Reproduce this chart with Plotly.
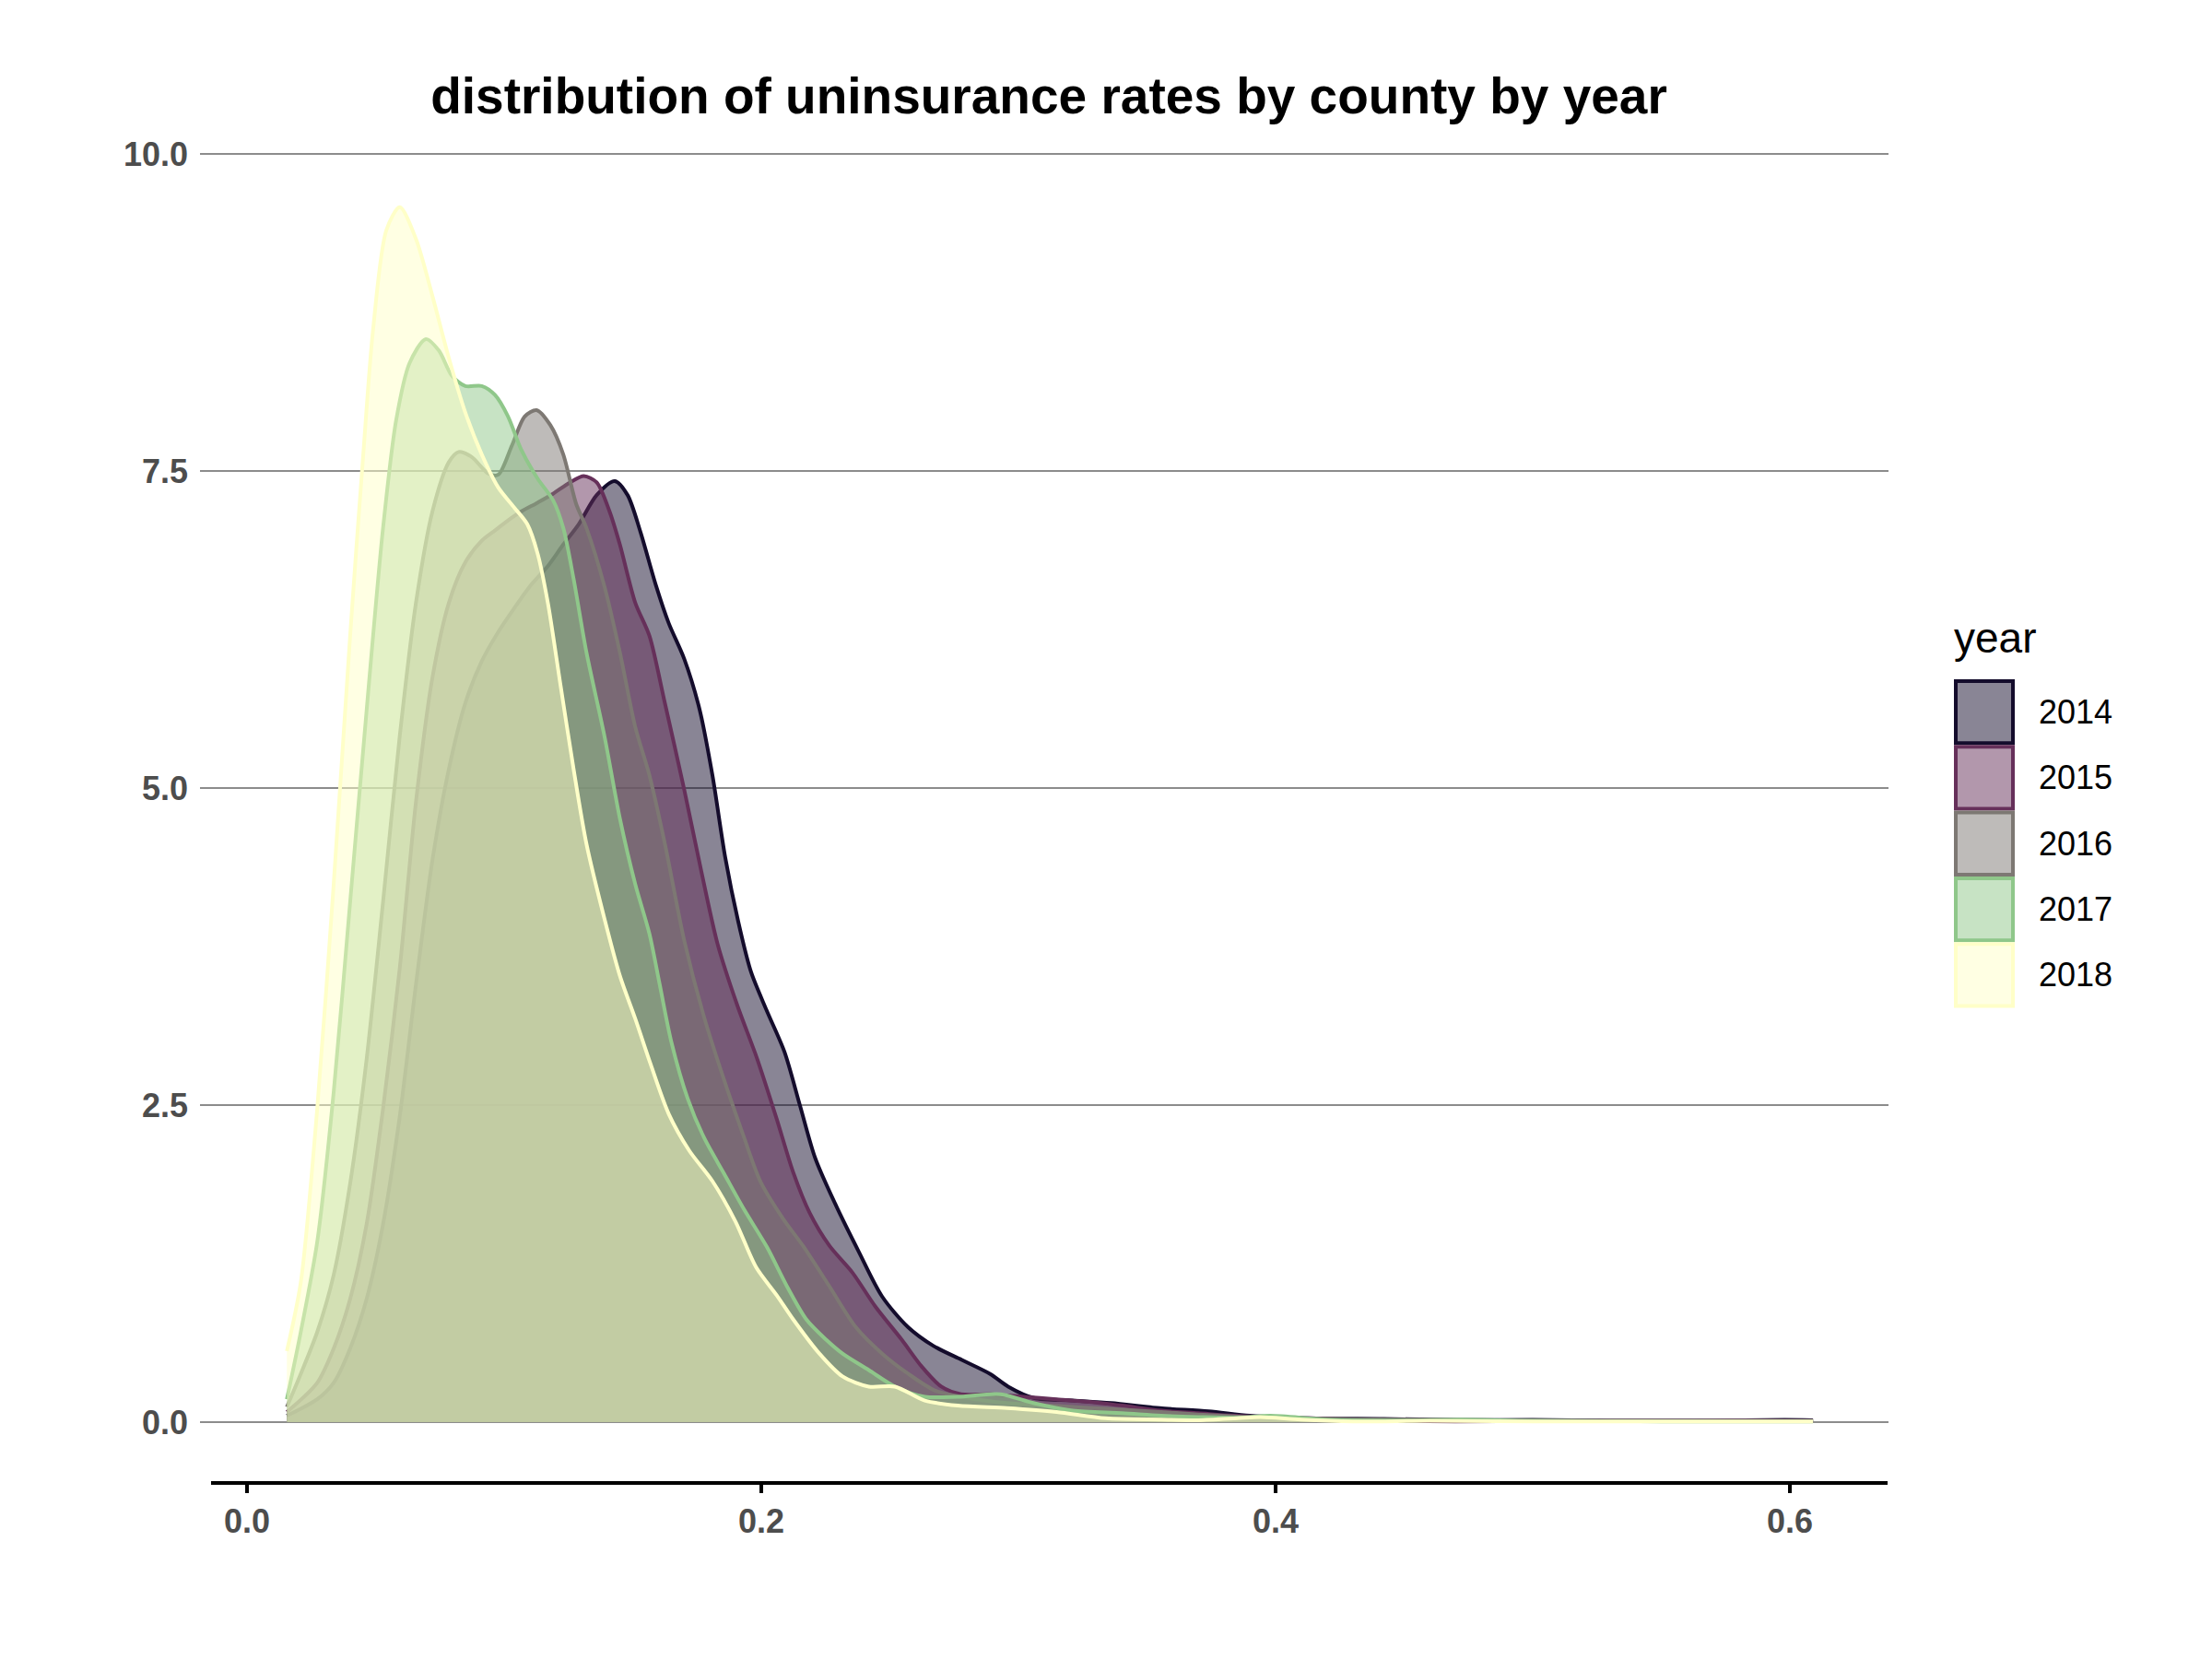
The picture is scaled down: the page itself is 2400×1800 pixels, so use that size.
import plotly.graph_objects as go

# ---------------- data ----------------
years = ["2014", "2015", "2016", "2017", "2018"]

x_2014 = [0.0155, 0.0273, 0.0337, 0.0401, 0.0465, 0.0529, 0.0594, 0.0657, 0.0721, 0.0785,
          0.0849, 0.0913, 0.0977, 0.104, 0.110, 0.117, 0.123, 0.129, 0.136, 0.143,
          0.148, 0.153, 0.159, 0.164, 0.170, 0.176, 0.181, 0.186, 0.191, 0.196,
          0.202, 0.209, 0.215, 0.221, 0.229, 0.238, 0.247, 0.257, 0.267, 0.278,
          0.289, 0.296, 0.306, 0.321, 0.336, 0.355, 0.374, 0.390, 0.413, 0.442,
          0.470, 0.500, 0.530, 0.570, 0.598, 0.609]
y_2014 = [0.05, 0.18, 0.31, 0.58, 0.97, 1.56, 2.41, 3.45, 4.43, 5.15,
          5.67, 6.00, 6.23, 6.42, 6.59, 6.75, 6.92, 7.08, 7.31, 7.42,
          7.31, 7.02, 6.60, 6.30, 6.02, 5.62, 5.10, 4.45, 3.95, 3.55,
          3.25, 2.92, 2.50, 2.08, 1.71, 1.34, 0.99, 0.75, 0.60, 0.49,
          0.38, 0.28, 0.19, 0.17, 0.15, 0.11, 0.085, 0.05, 0.03, 0.025,
          0.017, 0.017, 0.013, 0.012, 0.017, 0.015]

x_2015 = [0.0155, 0.0273, 0.0337, 0.0401, 0.0465, 0.0529, 0.0594, 0.0657, 0.0721, 0.0785,
          0.0849, 0.0913, 0.0964, 0.1015, 0.1066, 0.113, 0.119, 0.1256, 0.131, 0.136,
          0.141, 0.145, 0.151, 0.1565, 0.1625, 0.170, 0.1766, 0.183, 0.1906, 0.1983,
          0.206, 0.2124, 0.2188, 0.2265, 0.2354, 0.2444, 0.2546, 0.2623, 0.270, 0.2777,
          0.2892, 0.302, 0.3148, 0.3276, 0.3404, 0.3555, 0.370, 0.384, 0.413, 0.450,
          0.470, 0.500, 0.550, 0.580, 0.609]
y_2015 = [0.08, 0.31, 0.58, 0.97, 1.56, 2.47, 3.58, 4.89, 5.87, 6.46,
          6.78, 6.95, 7.03, 7.11, 7.18, 7.25, 7.32, 7.41, 7.46, 7.41,
          7.18, 6.92, 6.46, 6.20, 5.67, 4.99, 4.35, 3.77, 3.29, 2.87,
          2.39, 1.97, 1.65, 1.39, 1.18, 0.91, 0.65, 0.44, 0.28, 0.22,
          0.22, 0.20, 0.18, 0.16, 0.13, 0.09, 0.07, 0.05, 0.03, 0.01,
          0.005, 0.008, 0.010, 0.012, 0.008]

x_2016 = [0.0155, 0.0209, 0.0273, 0.0337, 0.0401, 0.0465, 0.0529, 0.0594, 0.0657, 0.0721,
          0.0785, 0.0823, 0.0874, 0.0938, 0.0977, 0.103, 0.108, 0.1126, 0.118, 0.123,
          0.128, 0.132, 0.139, 0.145, 0.151, 0.1565, 0.1625, 0.170, 0.1778, 0.1855,
          0.1932, 0.1996, 0.2086, 0.2162, 0.2265, 0.2367, 0.247, 0.2572, 0.2674, 0.2777,
          0.2956, 0.3212, 0.3555, 0.370, 0.390, 0.420, 0.450, 0.500, 0.550, 0.609]
y_2016 = [0.12, 0.38, 0.71, 1.16, 1.88, 2.86, 4.10, 5.41, 6.46, 7.18,
          7.57, 7.65, 7.61, 7.48, 7.47, 7.70, 7.93, 7.98, 7.86, 7.63,
          7.24, 7.05, 6.59, 6.07, 5.48, 5.10, 4.56, 3.80, 3.19, 2.70,
          2.25, 1.90, 1.60, 1.39, 1.07, 0.75, 0.54, 0.38, 0.25, 0.20,
          0.15, 0.12, 0.08, 0.06, 0.04, 0.025, 0.02, 0.012, 0.010, 0.008]

x_2017 = [0.0155, 0.0209, 0.0273, 0.0337, 0.0401, 0.0465, 0.0529, 0.058, 0.0632, 0.0695,
          0.0746, 0.0797, 0.0849, 0.0913, 0.0964, 0.1015, 0.1066, 0.113, 0.119, 0.123,
          0.127, 0.132, 0.139, 0.145, 0.151, 0.1565, 0.1605, 0.165, 0.1714, 0.1778,
          0.1855, 0.1932, 0.2022, 0.210, 0.2175, 0.2252, 0.2316, 0.2418, 0.252, 0.2636,
          0.2764, 0.293, 0.3058, 0.3212, 0.3404, 0.3555, 0.370, 0.385, 0.398, 0.420,
          0.450, 0.472, 0.500, 0.550, 0.609]
y_2017 = [0.18, 0.71, 1.42, 2.60, 4.10, 5.61, 7.05, 7.90, 8.35, 8.54,
          8.45, 8.25, 8.17, 8.17, 8.10, 7.93, 7.67, 7.44, 7.27, 7.05,
          6.65, 6.07, 5.41, 4.76, 4.24, 3.85, 3.45, 3.00, 2.55, 2.24,
          1.96, 1.68, 1.38, 1.07, 0.81, 0.65, 0.54, 0.41, 0.28, 0.20,
          0.20, 0.22, 0.15, 0.09, 0.07, 0.05, 0.04, 0.035, 0.05, 0.02,
          0.012, 0.02, 0.010, 0.006, 0.005]

x_2018 = [0.0155, 0.0209, 0.0273, 0.0337, 0.0401, 0.0452, 0.049, 0.0542, 0.0594, 0.0657,
          0.0721, 0.0785, 0.0849, 0.0913, 0.0977, 0.104, 0.109, 0.113, 0.117, 0.122,
          0.127, 0.132, 0.139, 0.145, 0.151, 0.157, 0.164, 0.172, 0.181, 0.190,
          0.198, 0.206, 0.2124, 0.2226, 0.2316, 0.2418, 0.252, 0.2636, 0.2764, 0.2956,
          0.3148, 0.334, 0.3555, 0.370, 0.385, 0.394, 0.410, 0.430, 0.460, 0.500,
          0.609]
y_2018 = [0.56, 1.10, 2.47, 4.24, 6.20, 7.63, 8.61, 9.40, 9.58, 9.33,
          8.88, 8.39, 7.96, 7.63, 7.37, 7.21, 7.08, 6.85, 6.46, 5.80,
          5.15, 4.56, 3.97, 3.52, 3.18, 2.82, 2.43, 2.14, 1.90, 1.58,
          1.22, 1.00, 0.81, 0.54, 0.36, 0.28, 0.28, 0.17, 0.13, 0.11,
          0.08, 0.03, 0.02, 0.015, 0.03, 0.04, 0.02, 0.006, 0.010, 0.005,
          0.005]

x_data = [x_2014, x_2015, x_2016, x_2017, x_2018]
y_data = [y_2014, y_2015, y_2016, y_2017, y_2018]

x_ticks = [0.0, 0.2, 0.4, 0.6]
y_ticks = [0.0, 2.5, 5.0, 7.5, 10.0]

# ---------------- styles ----------------
line_rgb = [(20, 12, 44), (102, 48, 90), (125, 120, 115), (143, 199, 138), (255, 255, 200)]
ALPHA = 0.5
FONT = "Liberation Sans"
TICK_COLOR = "#4d4d4d"

W, H = 2400, 1800
L, R, T, B = 217, 2049, 156, 1609   # plot panel (grid extent) in pixels
X0_PX, X_PER_UNIT = 268, 2790       # pixel of x=0 and pixels per x unit
AXIS_X0, AXIS_X1 = 229, 2048        # extent of the x axis line


def px_x(p):
    return (p - L) / (R - L)


def px_y(p):
    return (B - p) / (B - T)


def rgb(c):
    return "rgb(%d,%d,%d)" % c


def rgba(c, a):
    return "rgba(%d,%d,%d,%.2f)" % (c[0], c[1], c[2], a)


fig = go.Figure()
for yr, xs, ys, c in zip(years, x_data, y_data, line_rgb):
    fig.add_trace(go.Scatter(
        x=xs, y=ys, name=yr, mode="lines",
        line=dict(color=rgb(c), width=4, shape="spline", smoothing=0.8),
        fill="tozeroy", fillcolor=rgba(c, ALPHA),
        showlegend=False, hoverinfo="skip",
    ))

# ---------------- x axis line + manual legend ----------------
shapes = [dict(
    type="line", xref="paper", yref="paper",
    x0=px_x(AXIS_X0), x1=px_x(AXIS_X1), y0=0, y1=0,
    line=dict(color="black", width=4), layer="above",
)]
annotations = []
key_x0, key_x1 = 2120, 2186
key_top0, key_h = 737, 71.3
for i, (yr, c) in enumerate(zip(years, line_rgb)):
    top = key_top0 + i * key_h
    shapes.append(dict(
        type="rect", xref="paper", yref="paper",
        x0=px_x(key_x0 + 2), x1=px_x(key_x1 - 2),
        y0=px_y(top + key_h - 2), y1=px_y(top + 2),
        line=dict(color=rgb(c), width=4), fillcolor=rgba(c, ALPHA),
        layer="above",
    ))
    annotations.append(dict(
        text=yr, xref="paper", yref="paper",
        x=px_x(2210), y=px_y(top + key_h / 2),
        xanchor="left", yanchor="middle", showarrow=False,
        font=dict(family=FONT, size=36, color="black"),
    ))
annotations.append(dict(
    text="year", xref="paper", yref="paper",
    x=px_x(2118), y=px_y(692),
    xanchor="left", yanchor="middle", showarrow=False,
    font=dict(family=FONT, size=46, color="black"),
))

fig.update_layout(
    width=W, height=H, autosize=False,
    margin=dict(l=L, r=W - R, t=T, b=H - B, pad=0),
    paper_bgcolor="white", plot_bgcolor="white",
    title=dict(
        text="distribution of uninsurance rates by county by year",
        font=dict(family=FONT, size=55, color="black", weight="bold"),
        x=(1138 - L) / (R - L), xref="paper", xanchor="center",
        y=1 - 104 / H, yref="container", yanchor="middle",
    ),
    shapes=shapes,
    annotations=annotations,
    showlegend=False,
)

fig.update_xaxes(
    range=[(L - X0_PX) / X_PER_UNIT, (R - X0_PX) / X_PER_UNIT],
    tickvals=x_ticks, tickformat=".1f",
    showgrid=False, zeroline=False, showline=False,
    ticks="outside", ticklen=10, tickwidth=4, tickcolor="black",
    tickfont=dict(family=FONT, size=36, color=TICK_COLOR, weight="bold"),
)
fig.update_yaxes(
    range=[-0.48, 10.08],
    tickvals=y_ticks, tickformat=".1f",
    showgrid=True, gridcolor="#8c8c8c", gridwidth=2,
    zeroline=False, showline=False, ticks="",
    ticklabelstandoff=12,
    tickfont=dict(family=FONT, size=36, color=TICK_COLOR, weight="bold"),
)

fig.write_html(
    "out.html",
    config={"displayModeBar": False},
    post_script="document.body.style.margin='0px';",
)
